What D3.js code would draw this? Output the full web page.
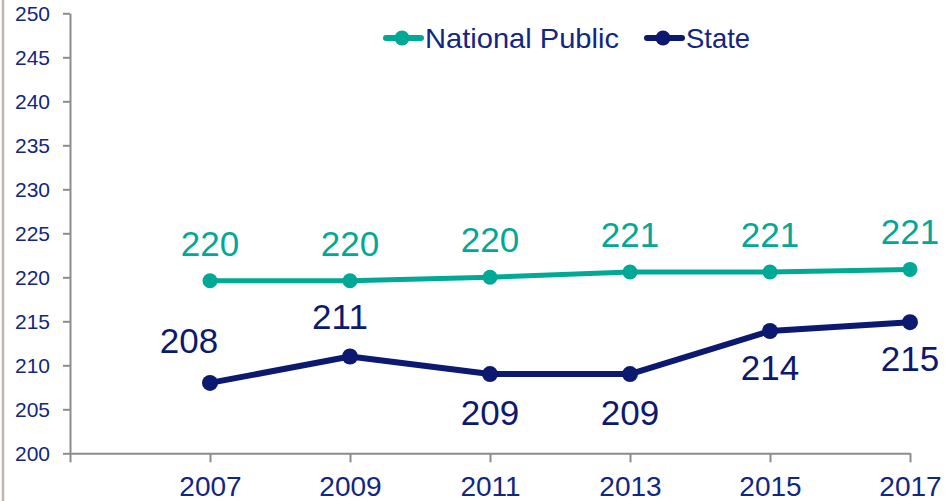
<!DOCTYPE html>
<html>
<head>
<meta charset="utf-8">
<script src="https://cdn.jsdelivr.net/npm/d3@7"></script>
<style>
  html, body { margin: 0; padding: 0; background: #ffffff; }
  svg { display: block; font-family: "Liberation Sans", Arial, sans-serif; }
</style>
</head>
<body>
<svg id="chart" width="950" height="501"></svg>
<script>
// ---- data ----
const years = [2007, 2009, 2011, 2013, 2015, 2017];
const xTickLabels = ["2007", "2009", "2011", "2013", "2015", "2017"];
const nationalPublic = [219.6, 219.6, 220.0, 220.6, 220.6, 220.9];
const nationalLabels = ["220", "220", "220", "221", "221", "221"];
const stateScores = [208.0, 211.0, 209.0, 209.0, 213.9, 214.9];
const stateLabels = ["208", "211", "209", "209", "214", "215"];
const yTicks = [200, 205, 210, 215, 220, 225, 230, 235, 240, 245, 250];
const seriesNames = ["National Public", "State"];

// ---- layout / style ----
const teal = "#00A896";
const navy = "#0B1A70";
const textNavy = "#122683";
const axisGray = "#8C8C8C";
const stateLabelDx = [-21, -10, 0, 0, 0, 0];
const stateLabelDy = [-30, -28, 51, 51, 49, 49];

const svg = d3.select("#chart");

// slide border at the left
svg.append("line").attr("x1", 3).attr("x2", 3).attr("y1", 0).attr("y2", 501)
  .attr("stroke", "#BDB8AD").attr("stroke-width", 2.5);

const x = d3.scaleLinear().domain([2005, 2017]).range([70, 910]);
const y = d3.scaleLinear().domain([200, 250]).range([453.3, 13.3]);

// y axis
const yAxis = svg.append("g").attr("transform", "translate(70,0)")
  .call(d3.axisLeft(y).tickValues(yTicks).tickSize(7).tickSizeOuter(0).tickPadding(13));
yAxis.selectAll("path, line").attr("stroke", axisGray).attr("stroke-width", 2);
yAxis.selectAll("text").attr("fill", textNavy).attr("font-size", 21)
  .attr("font-family", "Liberation Sans, Arial, sans-serif");

// x axis
const xAxis = svg.append("g").attr("transform", "translate(0,453.3)")
  .call(d3.axisBottom(x).tickValues([2005].concat(years)).tickSize(9).tickSizeOuter(0).tickPadding(14)
    .tickFormat(d => { const i = years.indexOf(d); return i < 0 ? "" : xTickLabels[i]; }));
xAxis.selectAll("path, line").attr("stroke", axisGray).attr("stroke-width", 2);
xAxis.selectAll("text").attr("fill", textNavy).attr("font-size", 28)
  .attr("font-family", "Liberation Sans, Arial, sans-serif");

const line = d3.line().x(d => x(d[0])).y(d => y(d[1]));

function drawSeries(values, color, width, r) {
  const pts = years.map((yr, i) => [yr, values[i]]);
  svg.append("path").datum(pts).attr("d", line)
    .attr("fill", "none").attr("stroke", color).attr("stroke-width", width)
    .attr("stroke-linejoin", "round").attr("stroke-linecap", "round");
  svg.append("g").selectAll("circle").data(pts).join("circle")
    .attr("cx", d => x(d[0])).attr("cy", d => y(d[1])).attr("r", r).attr("fill", color);
}

drawSeries(nationalPublic, teal, 5, 7.5);
drawSeries(stateScores, navy, 6, 8);

// data labels
svg.append("g").selectAll("text").data(years).join("text")
  .attr("x", (d) => x(d))
  .attr("y", (d, i) => y(nationalPublic[i]) - 25)
  .attr("text-anchor", "middle").attr("font-size", 35).attr("fill", teal)
  .text((d, i) => nationalLabels[i]);

svg.append("g").selectAll("text").data(years).join("text")
  .attr("x", (d, i) => x(d) + stateLabelDx[i])
  .attr("y", (d, i) => y(stateScores[i]) + stateLabelDy[i])
  .attr("text-anchor", "middle").attr("font-size", 35).attr("fill", navy)
  .text((d, i) => stateLabels[i]);

// legend
const legend = [
  { name: seriesNames[0], color: teal, x0: 384, len: 194 },
  { name: seriesNames[1], color: navy, x0: 645, len: 64 }
];
const lg = svg.append("g");
legend.forEach(l => {
  lg.append("line").attr("x1", l.x0 + 2).attr("x2", l.x0 + 37).attr("y1", 38).attr("y2", 38)
    .attr("stroke", l.color).attr("stroke-width", 6).attr("stroke-linecap", "round");
  lg.append("circle").attr("cx", l.x0 + 18).attr("cy", 38).attr("r", 7.5).attr("fill", l.color);
  lg.append("text").attr("x", l.x0 + 41).attr("y", 47.5)
    .attr("font-size", 28.5).attr("fill", textNavy)
    .attr("textLength", l.len).attr("lengthAdjust", "spacingAndGlyphs")
    .text(l.name);
});
</script>
</body>
</html>
